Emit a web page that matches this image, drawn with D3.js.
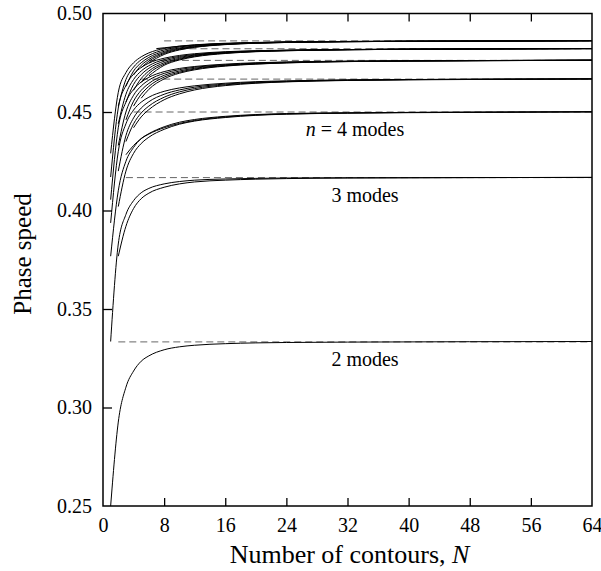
<!DOCTYPE html>
<html>
<head>
<meta charset="utf-8">
<script src="https://cdn.jsdelivr.net/npm/d3@7"></script>
<style>
  body { margin: 0; background: #fff; }
  svg text { font-family: "Liberation Serif", "Times New Roman", "DejaVu Serif", serif; fill: #000; }
</style>
</head>
<body>
<svg id="chart" width="601" height="571"></svg>
<script>
const serif = "'Liberation Serif', 'Times New Roman', 'DejaVu Serif', serif";

// asymptotic phase speed for n = 2..8 modes (dashed lines)
const modes = [2, 3, 4, 5, 6, 7, 8];
const limits = [0.3333, 0.4167, 0.4500, 0.4667, 0.4762, 0.4821, 0.4861];
const limitStart = [2, 3, 4, 5, 6, 7, 8];

const xTicks = [0, 8, 16, 24, 32, 40, 48, 56, 64];
const yTicks = [0.25, 0.30, 0.35, 0.40, 0.45, 0.50];

// curves: [N, phase speed]
const curves2 = [
  [[1,0.250],[2,0.2926],[3,0.3103],[4,0.3185],[5,0.3235],[6,0.3262],[8,0.3293],[10,0.3308],[12,0.3316],[16,0.3324],[20,0.3328],[24,0.3330],[32,0.3332],[48,0.3334],[64,0.3335]]
];
const curves3 = [
  [[1,0.3335],[2,0.3830],[3,0.3980],[4,0.4050],[5,0.4090],[6,0.4112],[8,0.4135],[10,0.4147],[12,0.4154],[16,0.4160],[20,0.4163],[24,0.4165],[32,0.4166],[64,0.4168]],
  [[2,0.3768],[3,0.3920],[4,0.4010],[5,0.4060],[6,0.4088],[8,0.4118],[10,0.4135],[12,0.4145],[16,0.4154],[20,0.4159],[24,0.4162],[32,0.4165],[64,0.4168]]
];
const curves4 = [
  [[1,0.3768],[2,0.4100],[3,0.4250],[4,0.4320],[5,0.4365],[6,0.4390],[8,0.4425],[10,0.4448],[12,0.4462],[16,0.4478],[20,0.4487],[24,0.4492],[32,0.4496],[48,0.4499],[64,0.4501]],
  [[2,0.4020],[3,0.4200],[4,0.4290],[5,0.4340],[6,0.4372],[8,0.4412],[10,0.4438],[12,0.4454],[16,0.4472],[20,0.4483],[24,0.4489],[32,0.4494],[48,0.4498],[64,0.4501]],
  [[3,0.4283],[4,0.4330],[5,0.4365],[6,0.4388],[8,0.4420],[10,0.4442],[12,0.4457],[16,0.4475],[20,0.4485],[24,0.4490],[32,0.4495],[48,0.4499],[64,0.4501]]
];
const curves5 = [
  [[1,0.3937],[2,0.4300],[3,0.4440],[4,0.4510],[5,0.4550],[6,0.4575],[8,0.4605],[10,0.4622],[12,0.4633],[16,0.4646],[20,0.4654],[24,0.4658],[32,0.4663],[48,0.4666],[64,0.4668]],
  [[2,0.4200],[3,0.4380],[4,0.4470],[5,0.4520],[6,0.4552],[8,0.4590],[10,0.4612],[12,0.4626],[16,0.4642],[20,0.4651],[24,0.4656],[32,0.4662],[48,0.4666],[64,0.4668]],
  [[3,0.4350],[4,0.4440],[5,0.4495],[6,0.4530],[8,0.4575],[10,0.4602],[12,0.4619],[16,0.4638],[20,0.4648],[24,0.4654],[32,0.4661],[48,0.4666],[64,0.4668]],
  [[4,0.4420],[5,0.4475],[6,0.4512],[8,0.4562],[10,0.4592],[12,0.4612],[16,0.4634],[20,0.4646],[24,0.4653],[32,0.4660],[48,0.4665],[64,0.4668]]
];
const curves6 = [
  [[1,0.4055],[2,0.4420],[3,0.4550],[4,0.4615],[5,0.4652],[6,0.4676],[8,0.4705],[10,0.4721],[12,0.4731],[16,0.4743],[20,0.4750],[24,0.4754],[32,0.4758],[48,0.4761],[64,0.4763]],
  [[2,0.4330],[3,0.4500],[4,0.4585],[5,0.4632],[6,0.4662],[8,0.4696],[10,0.4715],[12,0.4727],[16,0.4740],[20,0.4748],[24,0.4753],[32,0.4757],[48,0.4761],[64,0.4763]],
  [[3,0.4460],[4,0.4555],[5,0.4610],[6,0.4645],[8,0.4686],[10,0.4708],[12,0.4722],[16,0.4737],[20,0.4746],[24,0.4751],[32,0.4757],[48,0.4761],[64,0.4763]],
  [[4,0.4530],[5,0.4590],[6,0.4630],[8,0.4677],[10,0.4702],[12,0.4718],[16,0.4735],[20,0.4744],[24,0.4750],[32,0.4756],[48,0.4760],[64,0.4763]],
  [[5,0.4570],[6,0.4615],[8,0.4668],[10,0.4697],[12,0.4714],[16,0.4733],[20,0.4743],[24,0.4749],[32,0.4756],[48,0.4760],[64,0.4763]]
];
const curves7 = [
  [[1,0.4170],[2,0.4520],[3,0.4635],[4,0.4692],[5,0.4726],[6,0.4748],[8,0.4773],[10,0.4787],[12,0.4796],[16,0.4806],[20,0.4811],[24,0.4814],[32,0.4817],[48,0.4820],[64,0.4822]],
  [[2,0.4440],[3,0.4590],[4,0.4665],[5,0.4708],[6,0.4735],[8,0.4766],[10,0.4782],[12,0.4792],[16,0.4804],[20,0.4810],[24,0.4813],[32,0.4817],[48,0.4820],[64,0.4822]],
  [[3,0.4550],[4,0.4640],[5,0.4690],[6,0.4722],[8,0.4758],[10,0.4777],[12,0.4789],[16,0.4802],[20,0.4809],[24,0.4813],[32,0.4817],[48,0.4820],[64,0.4822]],
  [[4,0.4610],[5,0.4670],[6,0.4708],[8,0.4750],[10,0.4772],[12,0.4786],[16,0.4800],[20,0.4808],[24,0.4812],[32,0.4816],[48,0.4820],[64,0.4822]],
  [[5,0.4650],[6,0.4695],[8,0.4743],[10,0.4768],[12,0.4783],[16,0.4799],[20,0.4807],[24,0.4811],[32,0.4816],[48,0.4820],[64,0.4822]],
  [[6,0.4683],[8,0.4737],[10,0.4764],[12,0.4780],[16,0.4797],[20,0.4806],[24,0.4811],[32,0.4816],[48,0.4820],[64,0.4822]]
];
const curves8 = [
  [[1,0.4290],[2,0.4600],[3,0.4700],[4,0.4750],[5,0.4780],[6,0.4800],[8,0.4822],[10,0.4834],[12,0.4841],[16,0.4849],[20,0.4853],[24,0.4856],[32,0.4858],[48,0.4860],[64,0.4862]],
  [[2,0.4530],[3,0.4665],[4,0.4728],[5,0.4765],[6,0.4788],[8,0.4815],[10,0.4830],[12,0.4838],[16,0.4847],[20,0.4852],[24,0.4855],[32,0.4858],[48,0.4860],[64,0.4862]],
  [[3,0.4630],[4,0.4708],[5,0.4750],[6,0.4777],[8,0.4808],[10,0.4825],[12,0.4835],[16,0.4845],[20,0.4851],[24,0.4854],[32,0.4857],[48,0.4860],[64,0.4862]],
  [[4,0.4688],[5,0.4737],[6,0.4767],[8,0.4802],[10,0.4821],[12,0.4832],[16,0.4844],[20,0.4850],[24,0.4854],[32,0.4857],[48,0.4860],[64,0.4862]],
  [[5,0.4725],[6,0.4758],[8,0.4797],[10,0.4818],[12,0.4830],[16,0.4843],[20,0.4849],[24,0.4853],[32,0.4857],[48,0.4860],[64,0.4862]],
  [[6,0.4750],[8,0.4792],[10,0.4815],[12,0.4828],[16,0.4842],[20,0.4849],[24,0.4853],[32,0.4857],[48,0.4860],[64,0.4862]],
  [[7,0.4822],[8,0.4826],[10,0.4834],[12,0.4840],[16,0.4847],[20,0.4852],[24,0.4855],[32,0.4858],[48,0.4860],[64,0.4862]]
];
const allCurves = [].concat(curves2, curves3, curves4, curves5, curves6, curves7, curves8);

// text labels under the asymptotes
const labelModes = [4, 3, 2];
const labelText = ["= 4 modes", "3 modes", "2 modes"];

const svg = d3.select("#chart");
const margin = {left: 103, right: 9, top: 13.5, bottom: 65};
const width = 601, height = 571;

const x = d3.scaleLinear().domain([0, 64]).range([margin.left, width - margin.right]);
const y = d3.scaleLinear().domain([0.25, 0.50]).range([height - margin.bottom, margin.top]);

svg.append("defs").append("clipPath").attr("id", "plot-clip")
  .append("rect")
  .attr("x", x(0)).attr("y", y(0.50))
  .attr("width", x(64) - x(0)).attr("height", y(0.25) - y(0.50));

const plot = svg.append("g").attr("clip-path", "url(#plot-clip)");

// dashed asymptotes
plot.selectAll(".limit")
  .data(modes)
  .enter().append("line")
  .attr("class", "limit")
  .attr("x1", (d, i) => x(limitStart[i]))
  .attr("x2", x(64))
  .attr("y1", (d, i) => y(limits[i]))
  .attr("y2", (d, i) => y(limits[i]))
  .attr("stroke", "#666")
  .attr("stroke-width", 1)
  .attr("stroke-dasharray", "7,4");

const line = d3.line()
  .x(d => x(d[0]))
  .y(d => y(d[1]))
  .curve(d3.curveMonotoneX);

plot.selectAll(".curve")
  .data(allCurves)
  .enter().append("path")
  .attr("class", "curve")
  .attr("fill", "none")
  .attr("stroke", "#000")
  .attr("stroke-width", 1)
  .attr("d", line);

// axes with inward ticks
const xAxis = d3.axisBottom(x).tickValues(xTicks).tickSize(-8).tickPadding(12).tickSizeOuter(0);
const xAxisTop = d3.axisTop(x).tickValues(xTicks).tickSize(-8).tickFormat("").tickSizeOuter(0);
const yAxis = d3.axisLeft(y).tickValues(yTicks).tickSize(-9).tickPadding(11)
  .tickFormat(d3.format(".2f")).tickSizeOuter(0);

const gx = svg.append("g").attr("transform", "translate(0," + y(0.25) + ")").call(xAxis);
const gxt = svg.append("g").attr("transform", "translate(0," + y(0.50) + ")").call(xAxisTop);
const gy = svg.append("g").attr("transform", "translate(" + x(0) + ",0)").call(yAxis);

[gx, gxt, gy].forEach(g => {
  g.attr("font-family", serif).attr("font-size", 20);
  g.selectAll(".domain").remove();
  g.selectAll(".tick line").attr("stroke", "#000").attr("stroke-width", 1.3);
  g.selectAll(".tick text")
    .attr("font-family", serif)
    .style("font-family", serif)
    .style("font-size", "20px")
    .attr("fill", "#000");
});
gxt.selectAll(".tick").filter(d => d === 0 || d === 64).remove();
gx.selectAll(".tick line").filter(d => d === 0 || d === 64).remove();
gy.selectAll(".tick line").filter(d => d === 0.25 || d === 0.50).remove();

// frame
svg.append("rect")
  .attr("x", x(0)).attr("y", y(0.50))
  .attr("width", x(64) - x(0)).attr("height", y(0.25) - y(0.50))
  .attr("fill", "none")
  .attr("stroke", "#000")
  .attr("stroke-width", 1.5);

// mode labels
const labelX = [355, 365, 365];
labelModes.forEach((m, i) => {
  const t = svg.append("text")
    .attr("x", labelX[i])
    .attr("y", y(limits[modes.indexOf(m)]) + 24)
    .attr("text-anchor", "middle")
    .style("font-family", serif)
    .style("font-size", "20px");
  if (m === 4) {
    t.append("tspan").style("font-style", "italic").text("n ");
  }
  t.append("tspan").text(labelText[i]);
});

// axis titles
const xt = svg.append("text")
  .attr("x", (x(0) + x(64)) / 2 + 2)
  .attr("y", 563)
  .attr("text-anchor", "middle")
  .style("font-family", serif)
  .style("font-size", "26px");
xt.append("tspan").text("Number of contours, ");
xt.append("tspan").style("font-style", "italic").text("N");

svg.append("text")
  .attr("transform", "translate(31," + 254 + ") rotate(-90)")
  .attr("text-anchor", "middle")
  .style("font-family", serif)
  .style("font-size", "25px")
  .text("Phase speed");
</script>
</body>
</html>
